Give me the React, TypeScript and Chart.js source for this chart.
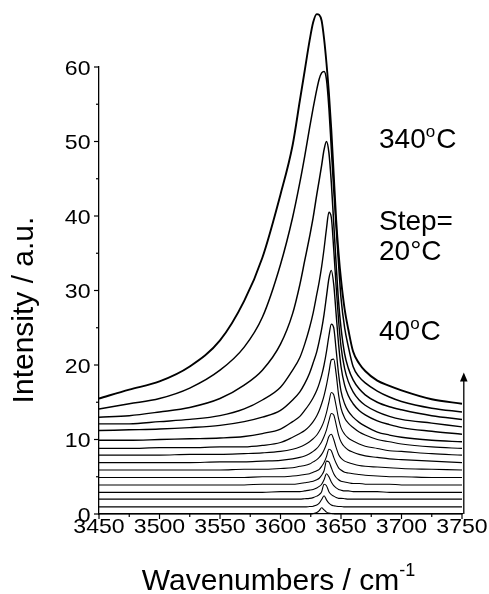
import React, { useEffect, useRef } from "react";
import { Chart, registerables } from "chart.js";

Chart.register(...registerables);

// Wavenumber grid (cm^-1)
const WAVENUMBER = [3450, 3475, 3500, 3525, 3550, 3570, 3585, 3600, 3610, 3616, 3620, 3624, 3627, 3630, 3632, 3634, 3636, 3638, 3640, 3642, 3644, 3646, 3648, 3650, 3653, 3656, 3660, 3665, 3670, 3680, 3690, 3700, 3725, 3750];

// Offset spectra, one per temperature (bottom = 40 °C, top = 340 °C)
const I_40C = [0, 0, 0, 0, 0, 0, 0, 0, 0, 0, 0, 0, 0.05, 0.2, 0.45, 0.84, 0.55, 0.25, 0.12, 0.06, 0.03, 0, 0, 0, 0, 0, 0, 0, 0, 0, 0, 0, 0, 0];
const I_60C = [0.95, 0.95, 0.95, 0.95, 0.95, 0.95, 0.95, 0.95, 0.95, 0.95, 0.95, 1.0, 1.05, 1.2, 1.45, 1.95, 2.45, 1.9, 1.45, 1.2, 1.1, 1.05, 1.0, 1.0, 0.95, 0.95, 0.95, 0.95, 0.95, 0.95, 0.95, 0.95, 0.95, 0.95];
const I_80C = [2.0, 2.0, 2.0, 2.0, 2.0, 2.0, 2.0, 2.0, 2.0, 2.0, 2.05, 2.1, 2.2, 2.4, 2.6, 3.0, 4.0, 3.8, 3.0, 2.6, 2.4, 2.2, 2.1, 2.1, 2.05, 2.0, 2.0, 2.0, 2.0, 2.0, 2.0, 2.0, 2.0, 2.0];
const I_100C = [2.9, 2.9, 2.9, 2.9, 2.9, 2.9, 2.9, 3.0, 3.0, 3.0, 3.1, 3.2, 3.3, 3.5, 3.7, 4.0, 4.6, 5.4, 5.0, 4.3, 3.8, 3.5, 3.3, 3.2, 3.1, 3.1, 3.0, 3.0, 3.0, 3.0, 2.9, 2.9, 2.9, 2.9];
const I_120C = [3.9, 3.9, 3.9, 3.9, 3.9, 3.9, 4.0, 4.0, 4.0, 4.1, 4.2, 4.3, 4.4, 4.6, 4.8, 5.2, 5.8, 7.1, 7.0, 6.2, 5.4, 4.9, 4.6, 4.4, 4.3, 4.2, 4.1, 4.1, 4.0, 4.0, 4.0, 3.9, 3.9, 3.9];
const I_140C = [4.9, 4.9, 4.9, 4.9, 4.9, 4.9, 5.0, 5.0, 5.1, 5.2, 5.3, 5.4, 5.6, 5.8, 6.0, 6.4, 6.9, 7.7, 8.7, 8.5, 7.6, 6.8, 6.2, 5.9, 5.6, 5.5, 5.4, 5.3, 5.2, 5.1, 5.0, 5.0, 4.9, 4.9];
const I_160C = [5.9, 5.9, 5.9, 5.9, 5.9, 6.0, 6.0, 6.1, 6.2, 6.4, 6.5, 6.7, 7.0, 7.3, 7.6, 8.0, 8.6, 9.4, 10.4, 10.7, 10.0, 8.9, 8.0, 7.5, 7.1, 6.9, 6.7, 6.5, 6.4, 6.3, 6.2, 6.1, 6.0, 5.9];
const I_180C = [6.9, 6.9, 6.9, 6.9, 7.0, 7.0, 7.1, 7.2, 7.4, 7.6, 7.8, 8.1, 8.4, 8.8, 9.2, 9.7, 10.4, 11.3, 12.5, 13.5, 13.3, 12.0, 10.6, 9.7, 9.0, 8.6, 8.3, 8.0, 7.8, 7.6, 7.4, 7.3, 7.1, 6.9];
const I_200C = [7.9, 7.9, 7.9, 8.0, 8.0, 8.1, 8.2, 8.4, 8.7, 9.0, 9.3, 9.7, 10.1, 10.6, 11.1, 11.7, 12.5, 13.6, 15.0, 16.3, 16.0, 14.5, 12.8, 11.6, 10.7, 10.2, 9.8, 9.4, 9.1, 8.8, 8.5, 8.4, 8.1, 7.9];
const I_220C = [8.8, 8.8, 8.9, 8.9, 9.0, 9.0, 9.2, 9.6, 10.3, 10.8, 11.2, 11.8, 12.4, 13.2, 13.9, 14.8, 15.9, 17.3, 19.0, 20.7, 20.8, 18.8, 16.0, 14.2, 12.9, 12.2, 11.6, 11.0, 10.6, 10.0, 9.7, 9.4, 9.0, 8.8];
const I_240C = [9.9, 9.9, 10.0, 10.1, 10.2, 10.4, 10.8, 11.4, 12.4, 13.1, 13.9, 14.8, 15.6, 16.6, 17.5, 18.6, 20.0, 21.8, 23.9, 25.5, 25.0, 22.0, 18.8, 16.5, 14.8, 13.8, 13.0, 12.3, 11.8, 11.0, 10.6, 10.3, 9.9, 9.7];
const I_260C = [11.2, 11.3, 11.4, 11.6, 11.9, 12.4, 13.0, 13.9, 15.3, 16.4, 17.5, 18.9, 20.3, 21.8, 23.2, 24.8, 26.8, 29.2, 31.6, 32.7, 30.8, 26.8, 22.8, 19.8, 17.3, 15.9, 14.8, 13.9, 13.3, 12.5, 12.0, 11.6, 11.1, 10.7];
const I_280C = [12.1, 12.1, 12.4, 12.7, 13.2, 14.1, 15.3, 17.0, 19.3, 21.0, 22.8, 25.0, 27.0, 29.5, 31.2, 33.2, 35.6, 38.3, 40.5, 39.8, 35.5, 30.5, 26.0, 22.5, 19.5, 17.8, 16.4, 15.3, 14.6, 13.7, 13.1, 12.7, 12.2, 11.7];
const I_300C = [13.0, 13.2, 13.7, 14.3, 15.5, 17.3, 19.3, 22.8, 26.9, 30.8, 34.0, 37.2, 39.8, 42.9, 44.8, 46.8, 48.9, 50.0, 48.5, 44.5, 39.0, 33.5, 28.5, 25.0, 21.5, 19.6, 18.0, 16.8, 16.0, 15.0, 14.4, 14.0, 13.2, 12.7];
const I_320C = [14.1, 14.8, 15.5, 16.9, 19.3, 22.4, 26.4, 33.5, 39.8, 44.5, 48.0, 51.8, 54.5, 57.0, 58.4, 59.2, 59.4, 58.3, 54.5, 49.0, 43.5, 38.5, 33.5, 29.0, 25.0, 22.5, 19.8, 18.4, 17.6, 16.5, 15.7, 15.1, 14.2, 13.7];
const I_340C = [15.5, 16.7, 17.8, 19.8, 23.3, 28.6, 34.4, 42.9, 49.5, 55.5, 59.5, 63.5, 66.0, 67.1, 67.0, 66.2, 63.8, 60.5, 56.5, 51.5, 45.5, 39.5, 35.0, 31.5, 27.5, 24.8, 21.8, 20.2, 19.2, 17.9, 17.2, 16.6, 15.4, 14.8];

const SERIES = [I_40C, I_60C, I_80C, I_100C, I_120C, I_140C, I_160C, I_180C, I_200C, I_220C, I_240C, I_260C, I_280C, I_300C, I_320C, I_340C];
const SERIES_NAMES = ["40", "60", "80", "100", "120", "140", "160", "180", "200", "220", "240", "260", "280", "300", "320", "340"];

// Axis ticks
const Y_MAJOR = [0, 10, 20, 30, 40, 50, 60];
const Y_MINOR = [5, 15, 25, 35, 45, 55];
const X_MAJOR = [3450, 3500, 3550, 3600, 3650, 3700, 3750];
const X_MINOR = [3475, 3525, 3575, 3625, 3675, 3725];

// Temperature arrow (intensity range, drawn at the right end)
const ARROW_RANGE = [0, 19];

const FONT = '"Liberation Sans", Arial, Helvetica, sans-serif';

function scaledText(ctx: CanvasRenderingContext2D, text: string, x: number, y: number, align: CanvasTextAlign, sx: number) {
  ctx.save();
  ctx.translate(x, y);
  ctx.scale(sx, 1);
  ctx.textAlign = align;
  ctx.fillText(text, 0, 0);
  ctx.restore();
}

function supText(ctx: CanvasRenderingContext2D, x: number, y: number, parts: { t: string; sup?: boolean }[], size: number, supSize: number, supRise: number) {
  let cx = x;
  ctx.textAlign = "left";
  for (const p of parts) {
    ctx.font = `${p.sup ? supSize : size}px ${FONT}`;
    ctx.fillText(p.t, cx, p.sup ? y - supRise : y);
    cx += ctx.measureText(p.t).width + (p.sup ? 1 : 0);
  }
  return cx - x;
}

const decorPlugin = {
  id: "decor",
  afterDraw(chart: any) {
    const ctx: CanvasRenderingContext2D = chart.ctx;
    const xs = chart.scales.x;
    const ys = chart.scales.y;
    const left = chart.chartArea.left;
    const bottom = chart.chartArea.bottom;
    ctx.save();
    ctx.strokeStyle = "#000";
    ctx.fillStyle = "#000";
    ctx.lineWidth = 1.2;

    const seg = (x1: number, y1: number, x2: number, y2: number) => {
      ctx.beginPath();
      ctx.moveTo(x1, y1);
      ctx.lineTo(x2, y2);
      ctx.stroke();
    };

    // tick marks
    for (const v of Y_MAJOR) { const py = ys.getPixelForValue(v); seg(left - 5, py, left, py); }
    for (const v of Y_MINOR) { const py = ys.getPixelForValue(v); seg(left - 3, py, left, py); }
    for (const v of X_MAJOR) { const px = xs.getPixelForValue(v); seg(px, bottom, px, bottom + 5); }
    for (const v of X_MINOR) { const px = xs.getPixelForValue(v); seg(px, bottom, px, bottom + 3); }

    // tick labels
    ctx.font = `21px ${FONT}`;
    ctx.textBaseline = "alphabetic";
    for (const v of Y_MAJOR) {
      const py = ys.getPixelForValue(v);
      scaledText(ctx, String(v), left - 8.5, py + 7.5, "right", 1.1);
    }
    for (const v of X_MAJOR) {
      const px = xs.getPixelForValue(v);
      scaledText(ctx, String(v), px, bottom + 18.5, "center", 1.1);
    }

    // axis titles
    ctx.font = `30px ${FONT}`;
    ctx.save();
    ctx.translate(33, 310);
    ctx.rotate(-Math.PI / 2);
    ctx.textAlign = "center";
    ctx.fillText("Intensity / a.u.", 0, 0);
    ctx.restore();

    ctx.font = `30px ${FONT}`;
    const w1 = ctx.measureText("Wavenumbers / cm").width;
    ctx.font = `18px ${FONT}`;
    const w2 = ctx.measureText("-1").width;
    const cxTitle = (xs.left + xs.right) / 2 - 1;
    const startX = cxTitle - (w1 + 2 + w2) / 2;
    supText(ctx, startX, 590, [{ t: "Wavenumbers / cm" }, { t: "-1", sup: true }], 30, 18, 14);

    // annotations
    const ax = 379;
    supText(ctx, ax, 148, [{ t: SERIES_NAMES[SERIES_NAMES.length - 1] }, { t: "o", sup: true }, { t: "C" }], 28, 17, 11);
    ctx.font = `28px ${FONT}`;
    ctx.textAlign = "left";
    ctx.fillText("Step=", ax, 230);
    ctx.fillText("20\u00B0C", ax, 260);
    supText(ctx, ax, 340, [{ t: SERIES_NAMES[0] }, { t: "o", sup: true }, { t: "C" }], 28, 17, 11);

    // arrow
    const apx = xs.getPixelForValue(3750) + 1.8;
    const ay0 = ys.getPixelForValue(ARROW_RANGE[0]);
    const ay1 = ys.getPixelForValue(ARROW_RANGE[1]);
    ctx.lineWidth = 1.3;
    seg(apx, ay0, apx, ay1 + 6);
    ctx.beginPath();
    ctx.moveTo(apx, ay1);
    ctx.lineTo(apx - 3.8, ay1 + 9);
    ctx.lineTo(apx + 3.8, ay1 + 9);
    ctx.closePath();
    ctx.fill();

    ctx.restore();
  },
};

export default function App() {
  const ref = useRef<HTMLCanvasElement>(null);

  useEffect(() => {
    if (!ref.current) return;
    const widths = [1.1, 1.1, 1.1, 1.1, 1.1, 1.1, 1.1, 1.1, 1.1, 1.2, 1.3, 1.4, 1.4, 1.5, 1.5, 1.9];
    const chart = new Chart(ref.current, {
      type: "line",
      data: {
        datasets: SERIES.map((s, k) => ({
          label: SERIES_NAMES[k] + " \u00B0C",
          data: WAVENUMBER.map((w, i) => ({ x: w, y: s[i] })),
          borderColor: "#000",
          borderWidth: widths[k],
          pointRadius: 0,
          fill: false,
          clip: false as any,
          cubicInterpolationMode: "monotone" as const,
        })),
      },
      options: {
        animation: false,
        responsive: false,
        devicePixelRatio: 1,
        events: [],
        layout: { padding: { left: 0, right: 27, top: 67, bottom: 0 } },
        plugins: { legend: { display: false }, tooltip: { enabled: false } },
        scales: {
          x: {
            type: "linear",
            min: 3450,
            max: 3750,
            grid: { display: false },
            border: { display: true, color: "#000", width: 1.3 },
            ticks: { display: false },
            afterFit: (s: any) => { s.height = 80; },
          },
          y: {
            type: "linear",
            min: 0,
            max: 60,
            grid: { display: false },
            border: { display: true, color: "#000", width: 1.3 },
            ticks: { display: false },
            afterFit: (s: any) => { s.width = 99; },
          },
        },
      },
      plugins: [decorPlugin],
    });
    return () => chart.destroy();
  }, []);

  return (
    <div style={{ position: "absolute", left: 0, top: 0, width: 489, height: 594, background: "#fff" }}>
      <canvas ref={ref} width={489} height={594} style={{ display: "block", width: 489, height: 594 }} />
    </div>
  );
}
